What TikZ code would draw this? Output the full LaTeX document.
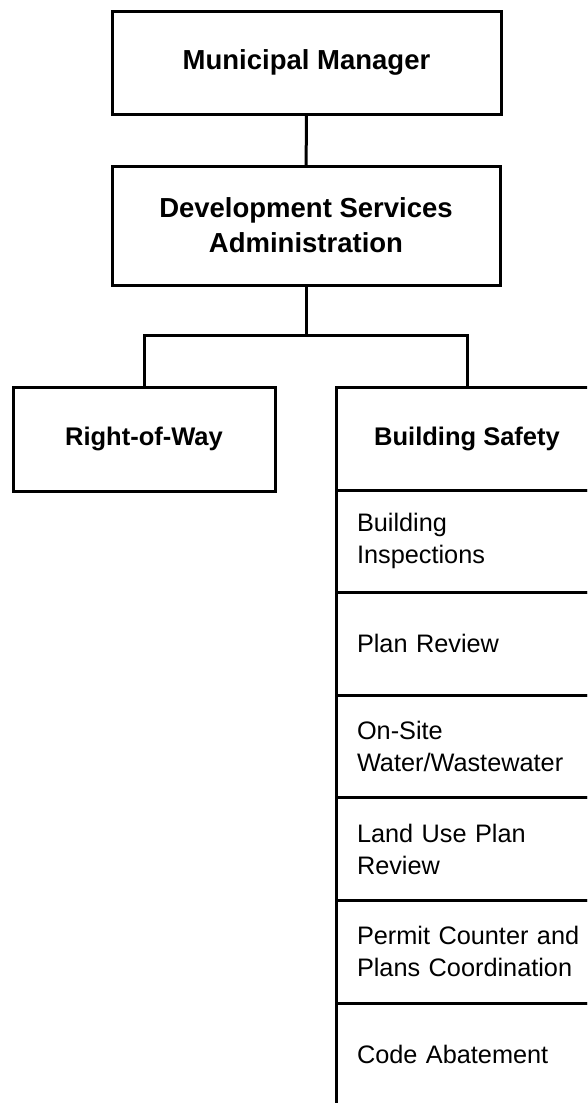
\documentclass[tikz,border=0pt]{standalone}
\usepackage{fontspec}
\setmainfont{Liberation Sans}

\tikzset{
  unitbox/.style={draw, line width=3pt, rectangle, align=center, outer sep=0pt},
  subbox/.style={draw, line width=3pt, rectangle, outer sep=0pt,
    minimum width=262pt, minimum height=102.6pt, inner xsep=21pt,
    text width=232pt, align=left, font=\fontsize{25.3}{32}\selectfont}
}

\begin{document}
\begin{tikzpicture}[x=1pt,y=-1pt]
  \useasboundingbox (0,0) rectangle (587,1103);
  \clip (0,0) rectangle (587,1103);

  \node[unitbox, minimum width=389pt, minimum height=103pt,
    font=\fontsize{27.5}{35}\selectfont\bfseries] (mm) at (306.5,62.5) {Municipal Manager};
  \node[unitbox, minimum width=388pt, minimum height=119pt,
    font=\fontsize{27.5}{35}\selectfont\bfseries] (dsa) at (306,225.5) {Development Services\\Administration};

  \node[unitbox, minimum width=262pt, minimum height=104pt,
    font=\fontsize{25.5}{32}\selectfont\bfseries] (row) at (144,439) {Right-of-Way};
  \node[unitbox, minimum width=262pt, minimum height=103pt,
    font=\fontsize{25.5}{32}\selectfont\bfseries] (bs) at (467,438.5) {Building Safety};

  \node[subbox, anchor=north west] (bi) at (bs.south west) {Building\\Inspections};
  \node[subbox, anchor=north west] (pr) at (bi.south west) {Plan Review};
  \node[subbox, anchor=north west] (ow) at (pr.south west) {On-Site\\Water/Wastewater};
  \node[subbox, anchor=north west] (lu) at (ow.south west) {Land Use Plan\\Review};
  \node[subbox, anchor=north west] (pc) at (lu.south west) {Permit Counter and\\Plans Coordination};
  \node[subbox, anchor=north west] (ca) at (pc.south west) {Code Abatement};

  \coordinate (bar) at (dsa.south |- 0,335);

  \draw[line width=3pt] (mm) -- (dsa);
  \draw[line width=3pt] (dsa) -- (bar);
  \draw[line width=3pt] (row.north) |- (bar) -| (bs.north);
\end{tikzpicture}
\end{document}
